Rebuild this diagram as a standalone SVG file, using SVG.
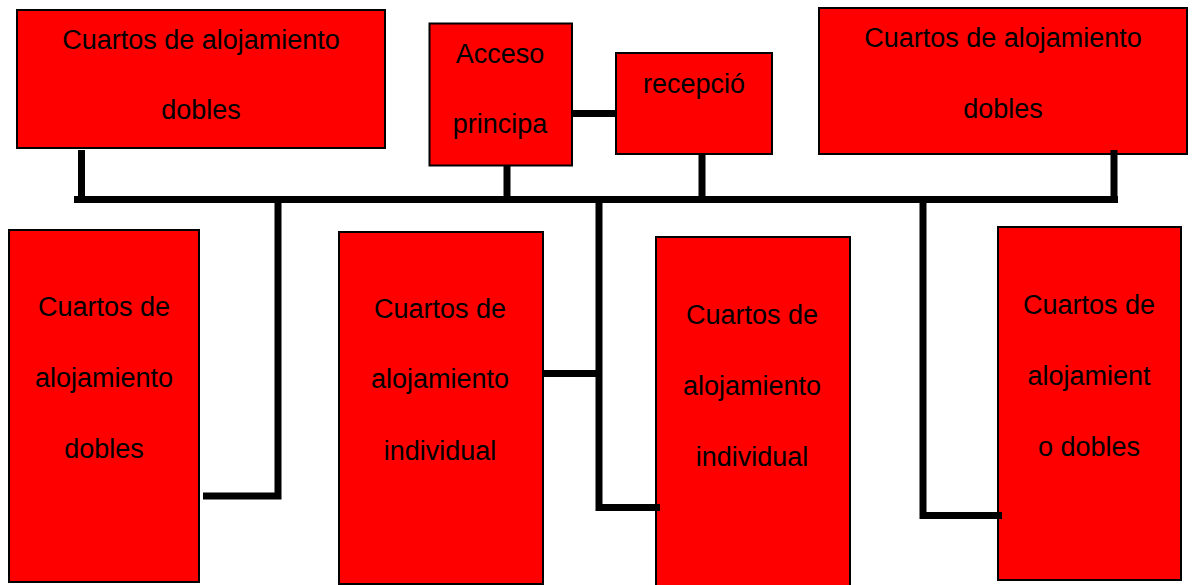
<svg xmlns="http://www.w3.org/2000/svg" width="1195" height="585" viewBox="0 0 1195 585">
<style>
.box{fill:#FF0000;stroke:#000;stroke-width:2}
.t{font-family:"Liberation Sans",Arial,sans-serif;font-size:27px;fill:#000;text-anchor:middle}
.c{stroke:#000;stroke-width:7;fill:none;stroke-linecap:butt;stroke-linejoin:miter}
</style>
<rect width="1195" height="585" fill="#fff"/>
<g id="node-a">
<rect class="box" x="17" y="10" width="368" height="138"/>
<text class="t" x="201" y="49">Cuartos de alojamiento</text>
<text class="t" x="201" y="119">dobles</text>
</g>
<g id="node-b">
<rect class="box" x="429.5" y="23.5" width="142.5" height="142"/>
<text class="t" x="500" y="63">Acceso</text>
<text class="t" x="500" y="133">principa</text>
</g>
<g id="node-c">
<rect class="box" x="616" y="53" width="156" height="101"/>
<text class="t" x="694" y="93">recepció</text>
</g>
<g id="node-d">
<rect class="box" x="819" y="8" width="368" height="146"/>
<text class="t" x="1003" y="47">Cuartos de alojamiento</text>
<text class="t" x="1003" y="118">dobles</text>
</g>
<g id="node-e">
<rect class="box" x="9" y="230" width="190" height="352"/>
<text class="t" x="104" y="316">Cuartos de</text>
<text class="t" x="104" y="387">alojamiento</text>
<text class="t" x="104" y="458">dobles</text>
</g>
<g id="node-f">
<rect class="box" x="339" y="232" width="204" height="352"/>
<text class="t" x="440" y="318">Cuartos de</text>
<text class="t" x="440" y="388">alojamiento</text>
<text class="t" x="440" y="460">individual</text>
</g>
<g id="node-g">
<rect class="box" x="656" y="237" width="194" height="352"/>
<text class="t" x="752" y="324">Cuartos de</text>
<text class="t" x="752" y="395">alojamiento</text>
<text class="t" x="752" y="466">individual</text>
</g>
<g id="node-h">
<rect class="box" x="998" y="227" width="183" height="353"/>
<text class="t" x="1089" y="314">Cuartos de</text>
<text class="t" x="1089" y="385">alojamient</text>
<text class="t" x="1089" y="456">o dobles</text>
</g>
<g id="connectors">
<path class="c" d="M74 199.5H1118"/>
<path class="c" d="M81.5 150V199.5"/>
<path class="c" d="M507 166V199.5"/>
<path class="c" d="M702 155V199.5"/>
<path class="c" d="M1114 150V199.5"/>
<path class="c" d="M573 113.5H615"/>
<path class="c" d="M278 199.5V496H203"/>
<path class="c" d="M599 199.5V507.5H660"/>
<path class="c" d="M544 373.5H599"/>
<path class="c" d="M923 199.5V515.5H1002"/>
</g>
</svg>
